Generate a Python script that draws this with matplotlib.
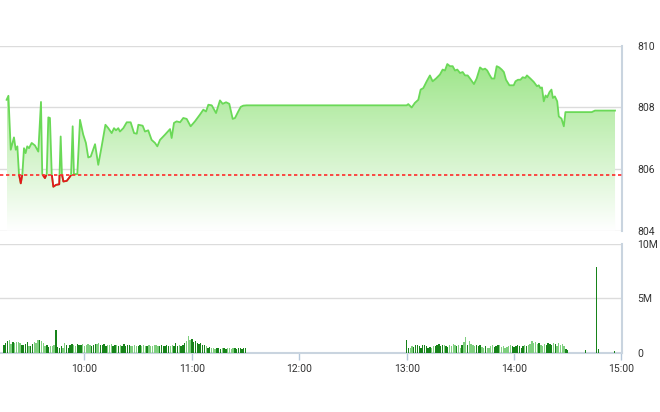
import numpy as np
import matplotlib.pyplot as plt
from matplotlib.patches import Rectangle
from matplotlib.colors import LinearSegmentedColormap

plt.rcParams['font.family'] = ['Roboto', 'DejaVu Sans']

# time axis = minutes after 09:00
ref_price = 805.80

price_t = [16.5, 17.5, 18.8, 20.6, 21.6, 22.5, 23.4, 24.4, 25.3, 26.2,
           27.1, 28.0, 29.0, 30.5, 32.3, 34.2, 35.7, 36.4, 37.9, 38.9,
           39.8, 40.7, 41.7, 42.6, 44.1, 45.9, 46.7, 47.4, 48.2, 50.1,
           51.3, 52.5, 53.4, 54.1, 56.0, 57.5, 59.3, 60.8, 62.1, 63.5,
           65.9, 67.7, 69.6, 71.7, 73.3, 75.2, 76.5, 77.6, 78.9, 79.8,
           81.7, 83.6, 85.8, 87.7, 89.2, 90.1, 92.5, 93.8, 95.6, 97.5,
           99.4, 100.7, 102.2, 105.0, 107.8, 108.7, 110.0, 111.5, 113.4, 115.2,
           117.1, 119.3, 121.7, 124.5, 126.4, 127.9, 129.2, 131.1, 133.5, 135.7,
           137.2, 139.1, 140.9, 142.8, 144.1, 145.9, 147.3, 148.7, 150.6, 240.0,
           240.9, 242.8, 244.6, 246.5, 247.8, 249.3, 251.2, 253.0, 254.5, 256.4,
           258.6, 260.1, 261.4, 262.7, 264.2, 265.7, 267.0, 268.3, 269.8, 271.3,
           272.6, 274.1, 275.4, 277.6, 279.1, 281.0, 282.5, 283.8, 285.0, 286.2,
           287.5, 289.0, 290.3, 291.7, 293.1, 294.3, 295.5, 297.4, 299.8, 300.8,
           302.2, 303.6, 304.8, 306.3, 307.2, 309.1, 311.0, 312.8, 313.8, 314.7,
           315.6, 316.6, 317.6, 318.5, 319.8, 320.9, 321.7, 322.8, 324.1, 325.0,
           326.5, 327.8, 328.7, 343.4, 345.2, 356.4]

price_v = [808.24, 808.37, 806.62, 807.02, 806.62, 806.73, 805.83, 805.53, 805.83, 806.67,
           806.51, 806.73, 806.67, 806.84, 806.76, 806.56, 808.17, 805.83, 805.70, 805.83,
           807.67, 807.65, 805.83, 805.42, 805.48, 805.50, 807.05, 805.83, 805.59, 805.61,
           805.70, 805.80, 807.38, 805.83, 805.83, 807.59, 807.11, 806.84, 806.37, 806.40,
           806.80, 806.13, 806.73, 807.43, 807.32, 807.16, 807.32, 807.25, 807.32, 807.21,
           807.32, 807.51, 807.51, 807.16, 807.14, 807.43, 807.40, 807.21, 807.25, 806.94,
           806.84, 806.73, 806.94, 807.11, 807.29, 807.00, 807.49, 807.54, 807.51, 807.65,
           807.62, 807.38, 807.54, 807.76, 807.92, 807.86, 808.08, 808.06, 807.81, 808.22,
           808.11, 808.16, 808.11, 807.62, 807.65, 807.86, 808.01, 808.05, 808.06, 808.06,
           808.10, 807.99, 808.14, 808.24, 808.57, 808.62, 808.84, 809.03, 808.84, 808.93,
           809.06, 809.22, 809.19, 809.40, 809.33, 809.33, 809.19, 809.22, 809.11, 809.14,
           809.03, 809.03, 808.93, 808.75, 808.93, 809.29, 809.22, 809.25, 809.19, 809.06,
           808.93, 808.93, 809.33, 809.29, 809.22, 809.14, 808.89, 808.71, 808.71, 808.84,
           808.89, 808.89, 808.97, 808.95, 809.03, 808.93, 808.82, 808.68, 808.71, 808.62,
           808.64, 808.19, 808.38, 808.32, 808.49, 808.57, 808.30, 808.35, 808.19, 807.70,
           807.63, 807.38, 807.84, 807.84, 807.89, 807.89]

# volume (millions), one bar per minute 09:15-11:30 and 13:00-14:30
vol_am = [0.7, 0.9, 1.1, 1.2, 0.8, 1.0, 0.9, 1.05, 1.0, 0.9,
          0.75, 0.7, 0.85, 1.0, 0.6, 0.6, 0.8, 1.0, 0.9, 1.15,
          1.2, 1.1, 0.9, 0.6, 0.75, 0.55, 0.65, 0.6, 0.75, 2.1,
          0.55, 0.45, 0.6, 0.45, 0.9, 0.7, 0.5, 0.7, 0.8, 0.75,
          0.6, 0.8, 0.75, 0.7, 0.85, 0.6, 0.7, 0.8, 0.75, 0.65,
          0.7, 0.8, 0.85, 0.9, 0.7, 0.75, 0.8, 0.6, 0.7, 0.75,
          0.8, 0.65, 0.7, 0.75, 0.6, 0.7, 0.65, 0.8, 0.6, 0.7,
          0.75, 0.6, 0.65, 0.7, 0.6, 0.65, 0.75, 0.6, 0.7, 0.65,
          0.6, 0.7, 0.65, 0.6, 0.75, 0.7, 0.6, 0.65, 0.7, 0.6,
          0.65, 0.7, 0.6, 0.65, 0.7, 0.6, 0.95, 0.65, 0.7, 0.6,
          0.7, 0.9, 1.1, 1.6, 1.2, 1.3, 1.0, 1.1, 0.9, 0.8,
          0.9, 0.75, 0.7, 0.6, 0.5, 0.55, 0.45, 0.5, 0.4, 0.45,
          0.5, 0.4, 0.45, 0.5, 0.4, 0.45, 0.5, 0.4, 0.45, 0.5,
          0.4, 0.45, 0.5, 0.4, 0.45, 0.5]
vol_pm = [1.2, 0.5, 0.5, 0.6, 0.55, 0.7, 0.75, 0.6, 0.5, 0.7,
          0.75, 0.6, 0.5, 0.55, 0.5, 0.6, 0.65, 0.7, 0.8, 0.6,
          0.7, 0.75, 0.6, 0.55, 0.7, 0.6, 0.8, 0.7, 0.6, 0.75,
          0.5, 0.7, 1.0, 1.5, 0.7, 1.1, 0.8, 0.7, 0.6, 0.75,
          0.6, 0.7, 0.55, 0.5, 0.6, 0.45, 0.5, 0.6, 0.7, 0.55,
          0.6, 0.75, 0.7, 0.55, 0.6, 0.5, 0.55, 0.6, 0.75, 0.65,
          0.55, 0.6, 0.7, 0.6, 0.5, 0.6, 0.75, 0.6, 0.7, 0.8,
          1.1, 0.9, 1.0, 0.8, 0.9, 0.7, 0.6, 0.8, 0.7, 0.9,
          0.8, 0.7, 0.9, 0.8, 0.6, 0.9, 0.7, 0.8, 0.6, 0.4,
          0.3]
late_t = [340, 346, 347, 356]
late_vol = [0.3, 7.9, 0.4, 0.15]

hour_ticks = [60, 120, 180, 240, 300, 360]
hour_labels = ['10:00', '11:00', '12:00', '13:00', '14:00', '15:00']

vol_t = list(range(15, 151)) + list(range(240, 331)) + late_t
vol = vol_am + vol_pm + late_vol

fig = plt.figure(figsize=(6.6, 4.12), dpi=100)
ax = fig.add_axes([0.0, 0.4405, 0.9424, 0.449])
axv = fig.add_axes([0.0, 0.1432, 0.9424, 0.2646])

xlim = (12.8, 360.3)
grid_c = '#dcdcdc'
border_c = '#c9d4df'

# price panel: gradient fill under the line
cmap = LinearSegmentedColormap.from_list('g', ['#ffffff', '#94e37e'])
area = ax.fill_between(price_t, price_v, 804, color='none', lw=0)
grad = np.linspace(1, 0, 256).reshape(-1, 1)
img = ax.imshow(grad, extent=[price_t[0], price_t[-1], 804, 810], aspect='auto',
                cmap=cmap, vmin=0, vmax=1, origin='upper', zorder=1)
img.set_clip_path(area.get_paths()[0], transform=ax.transData)

ax.plot(price_t, price_v, color='#6ad957', lw=1.3, zorder=3)
red, = ax.plot(price_t, price_v, color='#e5161c', lw=1.3, zorder=4)
red.set_clip_path(Rectangle((0, 800), 400, ref_price - 800, transform=ax.transData))
ax.axhline(ref_price, color='#ff2a2a', lw=1.2, ls=(0, (2, 1.6)), zorder=5)

ax.set_xlim(*xlim)
ax.set_ylim(804, 810)
ax.set_yticks([804, 806, 808, 810])
ax.yaxis.tick_right()
ax.tick_params(axis='y', length=0, pad=11, labelsize=7.5, labelcolor='#333333')
ax.set_xticks([])
ax.grid(axis='y', color=grid_c, lw=1)
ax.set_axisbelow(True)
for s in ['top', 'left', 'bottom']:
    ax.spines[s].set_visible(False)
ax.spines['right'].set_color(border_c)
ax.spines['right'].set_linewidth(1.5)

# volume panel
up = np.interp(vol_t, price_t, price_v)
prev = np.interp(np.array(vol_t) - 1, price_t, price_v)
colors = ['#17831a' if a >= b else '#7fcf7f' for a, b in zip(up, prev)]
axv.bar(vol_t, vol, width=0.75, color=colors, lw=0, zorder=3)

axv.set_xlim(*xlim)
axv.set_ylim(0, 10)
axv.set_yticks([0, 5, 10])
axv.set_yticklabels(['0', '5M', '10M'])
axv.yaxis.tick_right()
axv.tick_params(axis='y', length=0, pad=11, labelsize=7.5, labelcolor='#333333')
axv.set_xticks(hour_ticks)
axv.set_xticklabels(hour_labels)
axv.tick_params(axis='x', length=5, width=1, color='#b5c7da', pad=3,
                labelsize=7.5, labelcolor='#333333')
axv.grid(axis='y', color=grid_c, lw=1)
axv.set_axisbelow(True)
for s in ['top', 'left']:
    axv.spines[s].set_visible(False)
for s in ['right', 'bottom']:
    axv.spines[s].set_color(border_c)
    axv.spines[s].set_linewidth(1.5)

fig.savefig('out.png', dpi=100)
